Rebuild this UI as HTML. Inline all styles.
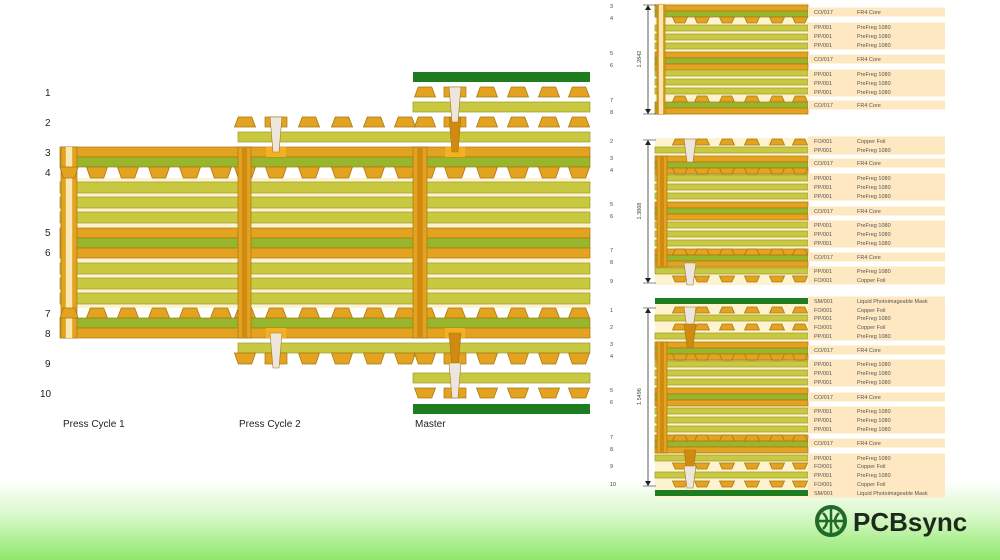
<!DOCTYPE html>
<html><head><meta charset="utf-8"><style>
html,body{margin:0;padding:0;width:1000px;height:560px;overflow:hidden;background:#fff}
svg{display:block}
text{font-family:"Liberation Sans",sans-serif}
</style></head><body>
<svg id="s" width="1000" height="560" viewBox="0 0 1000 560" xmlns="http://www.w3.org/2000/svg">
<defs>
<linearGradient id="bg" x1="0" y1="0" x2="0" y2="1">
<stop offset="0" stop-color="#ffffff"/><stop offset="0.45" stop-color="#d8f8c8"/><stop offset="1" stop-color="#8ee86a"/>
</linearGradient>
</defs>
<rect x="0" y="480" width="1000" height="80" fill="url(#bg)"/>
<g id="g"></g>
<g font-size="10" fill="#222">
<text x="45" y="96">1</text><text x="45" y="126">2</text><text x="45" y="156">3</text><text x="45" y="176">4</text>
<text x="45" y="236">5</text><text x="45" y="256">6</text><text x="45" y="317">7</text><text x="45" y="337">8</text>
<text x="45" y="367">9</text><text x="40" y="397">10</text>
<text x="63" y="427">Press Cycle 1</text><text x="239" y="427">Press Cycle 2</text><text x="415" y="427">Master</text>
</g>
<g transform="translate(815,505)">
<circle cx="16" cy="16" r="14" fill="none" stroke="#1f6b2a" stroke-width="4"/>
<path d="M16 4 V28 M4 16 H28 M8 8 Q16 16 8 24 M24 8 Q16 16 24 24" stroke="#1f6b2a" stroke-width="2.5" fill="none"/>
<text x="38" y="26" font-size="26" font-weight="bold" fill="#1c2a1c">PCBsync</text>
</g>
</svg>
<script>
var g=document.getElementById('g'),NS='http://www.w3.org/2000/svg';
function el(t,a,txt){var e=document.createElementNS(NS,t);for(var k in a)e.setAttribute(k,a[k]);if(txt)e.textContent=txt;g.appendChild(e);return e;}
var OR='#e3a21f',ORS='#a87814',GR='#98b62c',PP='#c9c841',PPS='#9c9a28',CR='#fdf3cf',MK='#1e7d1e';
function R(x,y,w,h,f,s){el('rect',{x:x,y:y,width:w,height:h,fill:f,stroke:s||'none','stroke-width':0.7});}
function trap(cx,y,h,w,down){var a=w/2,b=w/2-w*0.18;var p=down?[[cx-a,y],[cx+a,y],[cx+b,y+h],[cx-b,y+h]]:[[cx-b,y],[cx+b,y],[cx+a,y+h],[cx-a,y+h]];el('polygon',{points:p.map(function(q){return q.join(',')}).join(' '),fill:OR,stroke:ORS,'stroke-width':0.8});}
function pp(x0,x1,y,h){R(x0,y,x1-x0,h,PP,PPS);}
// ---------- left diagram ----------
var P=[97,128,159,190,221,245,276,309,342,374,405,425,455,487,518,549,579];
function pads(y,h,down,xmin,vias){P.forEach(function(c){if(c<xmin)return;if(vias.indexOf(c)>=0){R(c-11,y,22,h,OR,ORS);}else trap(c,y,h,21,down);});}
// cream gaps
R(60,178,530,130,CR);
// core 1
R(60,147,530,10,OR,ORS);R(60,157,530,10,GR,ORS);pads(167,11,true,80,[]);
pp(60,590,182,11);pp(60,590,197,11);pp(60,590,212,11);
R(60,228,530,10,OR,ORS);R(60,238,530,10,GR,ORS);R(60,248,530,10,OR,ORS);
pp(60,590,263,11);pp(60,590,278,11);pp(60,590,293,11);
pads(308,10,false,80,[]);R(60,318,530,10,GR,ORS);R(60,328,530,10,OR,ORS);
// press cycle 2 layers
pp(238,590,132,10);pads(117,10,false,238,[276,455]);
pp(238,590,343,10);pads(353,11,true,238,[276,455]);
// master layers
R(413,72,177,10,MK);pads(87,10,false,413,[455]);pp(413,590,102,10);
pp(413,590,373,10);pads(388,10,true,413,[455]);R(413,404,177,10,MK);
// through vias
function tvia(x,w,inner){R(x,147,w,191,OR,ORS);R(x+w*0.3,147,w*0.4,191,inner,'none');}
tvia(61,16,'#fbe7b4');tvia(238,13,'#d08a10');tvia(413,14,'#d08a10');
trap(69,167,11,18,true);trap(69,308,10,18,false);
// micro vias
function mv(cx,y1,y2,fill){el('polygon',{points:(cx-6)+','+y1+' '+(cx+6)+','+y1+' '+(cx+3)+','+y2+' '+(cx-3)+','+y2,fill:fill,stroke:ORS,'stroke-width':0.6});}
R(266,147,20,10,'#f4b020');mv(276,117,152,'#ece6dc');
R(266,328,20,10,'#f4b020');mv(276,333,368,'#ece6dc');
R(445,147,20,10,'#f4b020');mv(455,117,152,'#d08a10');mv(455,87,122,'#ece6dc');
R(445,328,20,10,'#f4b020');mv(455,333,368,'#d08a10');mv(455,363,398,'#ece6dc');
// ---------- right stacks ----------
var RX0=655,RX1=808,RP=[680,702,727,752,777,800];
function rpads(y,h,down){RP.forEach(function(c){trap(c,y,h,15,down);});}
function label(y,a,b){R(808,y-4.5,137,9,'#fde8c2');el('text',{x:814,y:y+2,'font-size':5.5,fill:'#555'},a);el('text',{x:857,y:y+2,'font-size':5.5,fill:'#555'},b);}
function core(y,padTop,padBot){R(RX0,y,RX1-RX0,6,OR,ORS);R(RX0,y+6,RX1-RX0,6,GR,ORS);R(RX0,y+12,RX1-RX0,6,OR,ORS);
 if(padTop)rpads(y+12,6,true);if(padBot)rpads(y,6,false);}
function num(y,t){el('text',{x:610,y:y+2,'font-size':5.5,fill:'#444'},t);}
function dim(y1,y2,t){el('line',{x1:648,y1:y1,x2:648,y2:y2,stroke:'#333','stroke-width':0.8});
 el('polygon',{points:'645,'+(y1+5)+' 651,'+(y1+5)+' 648,'+y1,fill:'#222'});el('polygon',{points:'645,'+(y2-5)+' 651,'+(y2-5)+' 648,'+y2,fill:'#222'});
 el('line',{x1:643,y1:y1,x2:656,y2:y1,stroke:'#333','stroke-width':0.6});el('line',{x1:643,y1:y2,x2:656,y2:y2,stroke:'#333','stroke-width':0.6});
 el('text',{x:0,y:0,'font-size':5.5,fill:'#444',transform:'translate(641,'+((y1+y2)/2+8)+') rotate(-90)'},t);}
function rpp(y){pp(RX0,RX1,y,6);}
// top
R(RX0,3,153,112,CR);
R(RX0,5,153,6,OR,ORS);R(RX0,11,153,6,GR,ORS);rpads(17,6,true);
rpp(25);rpp(34);rpp(43);core(52,false,false);rpp(70);rpp(79);rpp(88);
rpads(96,6,false);R(RX0,102,153,6,GR,ORS);R(RX0,108,153,6,OR,ORS);
label(12,'CO/017','FR4 Core');label(27,'PP/001','PreFreg 1080');label(36,'PP/001','PreFreg 1080');label(45,'PP/001','PreFreg 1080');
label(59,'CO/017','FR4 Core');label(74,'PP/001','PreFreg 1080');label(83,'PP/001','PreFreg 1080');label(92,'PP/001','PreFreg 1080');label(105,'CO/017','FR4 Core');
R(657,5,8,109,OR,ORS);R(659,5,4,109,'#fbe7b4');
num(6,'3');num(18,'4');num(53,'5');num(65,'6');num(100,'7');num(112,'8');dim(5,114,'1.2842');
// middle
R(RX0,138,153,147,CR);
rpads(139,6,false);rpp(147);core(156,true,false);
rpp(175);rpp(184);rpp(193);core(202,false,false);rpp(222);rpp(231);rpp(240);core(249,false,true);rpp(268);rpads(276,6,true);
R(657,156,10,111,OR,ORS);R(660,156,4,111,'#d08a10');mv(690,139,162,'#ece6dc');mv(690,263,285,'#ece6dc');
[[141,'FO/001','Copper Foil'],[150,'PP/001','PreFreg 1080'],[163,'CO/017','FR4 Core'],[178,'PP/001','PreFreg 1080'],[187,'PP/001','PreFreg 1080'],[196,'PP/001','PreFreg 1080'],[211,'CO/017','FR4 Core'],[225,'PP/001','PreFreg 1080'],[234,'PP/001','PreFreg 1080'],[243,'PP/001','PreFreg 1080'],[257,'CO/017','FR4 Core'],[271,'PP/001','PreFreg 1080'],[280,'FO/001','Copper Foil']].forEach(function(a){label(a[0],a[1],a[2]);});
num(141,'2');num(158,'3');num(170,'4');num(204,'5');num(216,'6');num(250,'7');num(262,'8');num(281,'9');dim(140,283,'1.3868');
// bottom
R(RX0,298,153,200,CR);
R(RX0,298,153,6,MK);rpads(307,6,false);rpp(315);rpads(324,6,false);rpp(333);core(342,true,false);
rpp(361);rpp(370);rpp(379);core(388,false,false);rpp(408);rpp(417);rpp(426);core(435,false,true);
rpp(455);rpads(463,6,true);rpp(472);rpads(481,6,true);R(RX0,490,153,6,MK);
R(657,342,10,111,OR,ORS);R(660,342,4,111,'#d08a10');
mv(690,307,330,'#ece6dc');mv(690,324,347,'#d08a10');mv(690,450,472,'#d08a10');mv(690,466,488,'#ece6dc');
[[301,'SM/001','Liquid Photoimageable Mask'],[310,'FO/001','Copper Foil'],[318,'PP/001','PreFreg 1080'],[327,'FO/001','Copper Foil'],[336,'PP/001','PreFreg 1080'],[350,'CO/017','FR4 Core'],[364,'PP/001','PreFreg 1080'],[373,'PP/001','PreFreg 1080'],[382,'PP/001','PreFreg 1080'],[397,'CO/017','FR4 Core'],[411,'PP/001','PreFreg 1080'],[420,'PP/001','PreFreg 1080'],[429,'PP/001','PreFreg 1080'],[443,'CO/017','FR4 Core'],[458,'PP/001','PreFreg 1080'],[466,'FO/001','Copper Foil'],[475,'PP/001','PreFreg 1080'],[484,'FO/001','Copper Foil'],[493,'SM/001','Liquid Photoimageable Mask']].forEach(function(a){label(a[0],a[1],a[2]);});
num(310,'1');num(327,'2');num(344,'3');num(356,'4');num(390,'5');num(402,'6');num(437,'7');num(449,'8');num(466,'9');num(484,'10');dim(308,486,'1.5496');
</script>
</body></html>
